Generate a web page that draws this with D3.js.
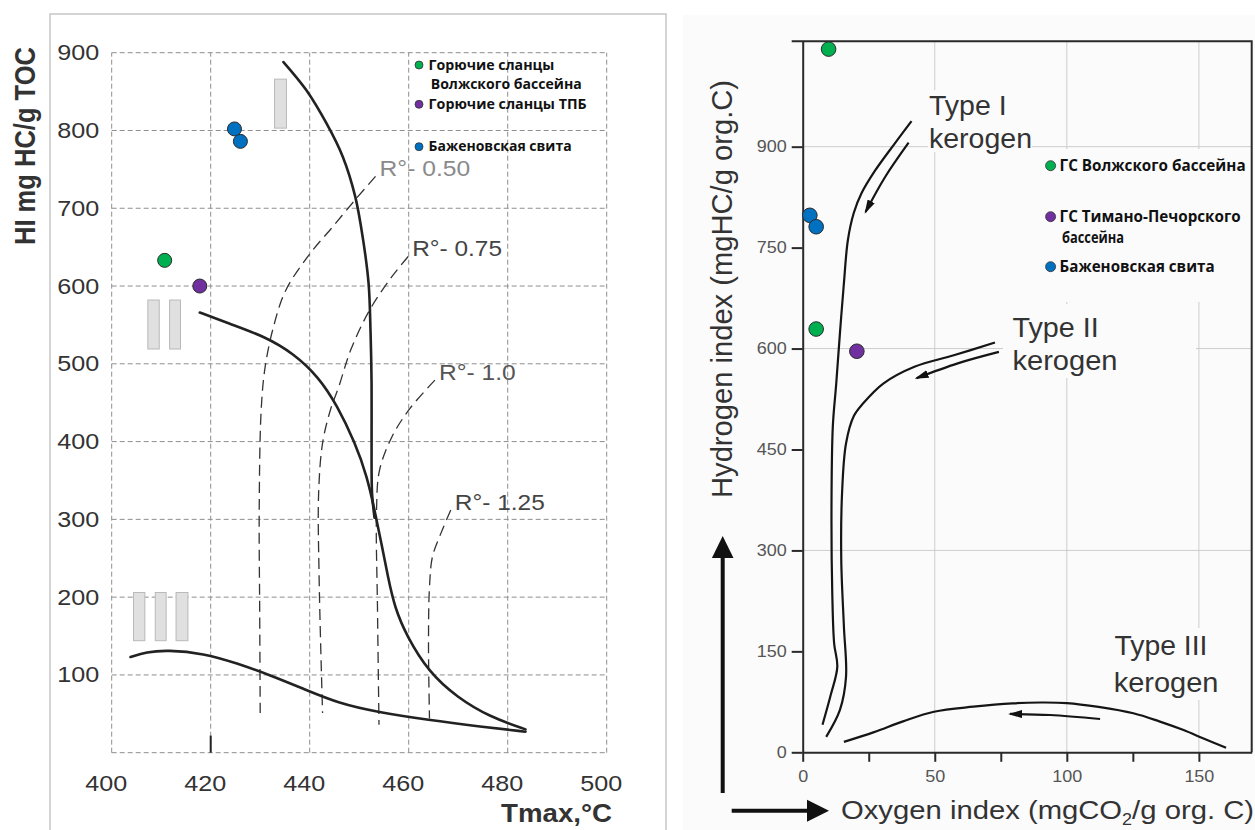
<!DOCTYPE html>
<html>
<head>
<meta charset="utf-8">
<script src="https://cdn.jsdelivr.net/npm/d3@7"></script>
<style>
  body { margin: 0; background: #fff; }
  svg { display: block; font-family: "Liberation Sans", Arial, sans-serif; }
</style>
</head>
<body>
<div id="chart"></div>
<script>
// ---- left chart: HI vs Tmax ----
let tmaxTicks = [400, 420, 440, 460, 480, 500];
let hiTicksLeft = [100, 200, 300, 400, 500, 600, 700, 800, 900];

// samples [tmax, HI]
let volgaLeft = [[410.7, 633]];
let tpbLeft = [[417.8, 600]];
let bazhLeft = [[424.8, 802], [426.0, 786]];

// kerogen evolution paths [tmax, HI]
let typeILeft = [[434.7, 888], [439.3, 852], [443.4, 809], [446.7, 766], [449.2, 715], [450.8, 659],
  [451.9, 603], [452.3, 539], [452.5, 475], [452.5, 398], [452.6, 333], [453.1, 302]];
let typeIILeft = [[417.8, 566], [423.6, 552], [431.0, 535], [436.8, 513], [441.8, 483], [445.5, 447],
  [449.2, 398], [451.6, 355], [453.1, 312], [454.5, 269], [455.8, 226], [457.2, 186], [459.6, 150],
  [464.0, 104], [469.8, 71], [476.4, 46], [483.6, 30]];
let typeIIILeft = [[403.8, 123], [407.0, 129.5], [411.2, 132], [418.6, 127.8], [425.3, 115], [431.9, 100],
  [439.3, 80.6], [445.9, 63.5], [453.3, 52.7], [464.0, 42], [474.7, 33.4], [483.6, 27]];

// vitrinite reflectance isolines [tmax, HI]
let ro050 = [[453.3, 741], [449.2, 711], [444.5, 675], [440.1, 642], [435.2, 595], [432.7, 548],
  [431.0, 496], [430.2, 441], [429.8, 312], [429.9, 180], [430.0, 51]];
let ro075 = [[459.9, 638], [456.6, 612], [452.1, 569], [448.3, 518], [445.9, 471], [444.2, 441],
  [442.6, 398], [441.8, 333], [441.9, 226], [442.6, 51]];
let ro100 = [[465.3, 479], [460.3, 443], [456.6, 406], [454.1, 363], [453.5, 312], [453.7, 183], [454.0, 36]];
let ro125 = [[468.5, 312], [466.5, 282], [464.8, 252], [464.2, 213], [464.0, 141], [464.2, 44]];
let roNames = ["R°- 0.50", "R°- 0.75", "R°- 1.0", "R°- 1.25"];

// grey type markers [tmax0, tmax1, HI0, HI1]
let typeBoxes = [[432.9, 435.3, 803, 866],
  [407.3, 409.6, 519, 582], [411.7, 413.9, 519, 582],
  [404.4, 406.7, 144, 206], [408.8, 411.0, 144, 206], [413.0, 415.4, 144, 206]];

let legendLeft = [["Горючие сланцы", "Волжского бассейна"], ["Горючие сланцы ТПБ"], ["Баженовская свита"]];

// ---- right chart: HI vs OI ----
let oiTicks = [0, 25, 50, 75, 100, 125, 150];
let oiLabels = [0, 50, 100, 150];
let hiTicksRight = [0, 150, 300, 450, 600, 750, 900];
let hiGridRight = [300, 600, 900];

// samples [OI, HI]
let volgaRight = [[9.8, 1045], [5.1, 629]];
let tpbRight = [[20.5, 596]];
let bazhRight = [[2.7, 798], [5.1, 781]];

let typeIRight = [[41.2, 938], [34.9, 905], [27.5, 865], [22.3, 831], [19.3, 801], [17.1, 761], [15.6, 697],
  [14.1, 623], [12.7, 548], [11.4, 484], [10.9, 360], [11.2, 236], [11.9, 162], [13.1, 127], [10.6, 85], [7.5, 41]];
let typeIIRight = [[72.8, 609], [57.2, 590], [42.3, 573], [30.5, 548], [23.0, 519], [19.4, 500],
  [16.4, 459], [14.9, 385], [14.6, 286], [15.6, 187], [16.4, 112], [14.1, 63], [8.9, 23]];
let typeIIIRight = [[15.6, 15.5], [27.0, 30], [38.0, 46], [49.7, 60.3], [64.6, 67.8], [79.5, 72.8], [90, 74],
  [100, 73.2], [112, 67.5], [125.2, 58], [135, 46], [144.2, 33], [152, 20], [160.3, 6.8]];
let arrowIRight = [[40.1, 906], [31.2, 855], [23.8, 803]];
let arrowIIRight = [[74.3, 595], [58.7, 578], [43.1, 556]];
let arrowIIIRight = [[112.6, 49.5], [93.7, 55.4], [78.5, 57]];

let legendRight = [["ГС Волжского бассейна"], ["ГС Тимано-Печорского", "бассейна"], ["Баженовская свита"]];

let groupColors = ["#00b050", "#7030a0", "#0070c0"];

let width = 1255;
let height = 830;

let svg = d3.select("#chart")
  .append("svg")
  .attr("width", width)
  .attr("height", height);

let defs = svg.append("defs");
defs.append("marker")
  .attr("id", "head")
  .attr("viewBox", "0 0 14 8")
  .attr("refX", 12)
  .attr("refY", 4)
  .attr("markerWidth", 14)
  .attr("markerHeight", 8)
  .attr("markerUnits", "userSpaceOnUse")
  .attr("orient", "auto")
  .append("path")
  .attr("d", "M0,0L14,4L0,8Z")
  .attr("fill", "#111");

// panel backgrounds
svg.append("rect")
  .attr("x", 683).attr("y", 15)
  .attr("width", width - 683).attr("height", height - 15)
  .attr("fill", "#fbfbfc");
svg.append("path")
  .attr("d", "M50,830V14H666V830")
  .attr("fill", "none")
  .attr("stroke", "#c6c6c6")
  .attr("stroke-width", 1.5);

function addText(parent, x, y, str, size, opts) {
  opts = opts || {};
  let t = parent.append("text")
    .attr("x", x)
    .attr("y", y)
    .attr("font-size", size)
    .attr("fill", opts.fill || "#333")
    .text(str);
  if (opts.len) t.attr("textLength", opts.len).attr("lengthAdjust", "spacingAndGlyphs");
  if (opts.weight) t.attr("font-weight", opts.weight);
  if (opts.anchor) t.attr("text-anchor", opts.anchor);
  if (opts.family) t.attr("font-family", opts.family);
  return t;
}

// =============== LEFT ===============
let xL = d3.scaleLinear().domain([400, 500]).range([111.7, 606.7]);
let yL = d3.scaleLinear().domain([0, 900]).range([752.7, 52.7]);
let gL = svg.append("g");

gL.selectAll(".vgridL")
  .data(tmaxTicks)
  .join("line")
  .attr("x1", d => xL(d)).attr("x2", d => xL(d))
  .attr("y1", yL(0)).attr("y2", yL(900))
  .attr("stroke", "#8e8e8e").attr("stroke-width", 1).attr("stroke-dasharray", "5,3");
gL.selectAll(".hgridL")
  .data([0].concat(hiTicksLeft))
  .join("line")
  .attr("x1", xL(400)).attr("x2", xL(500))
  .attr("y1", d => yL(d)).attr("y2", d => yL(d))
  .attr("stroke", "#8e8e8e").attr("stroke-width", 1).attr("stroke-dasharray", "5,3");

// short solid mark on the 420 line
gL.append("line")
  .attr("x1", xL(420)).attr("x2", xL(420))
  .attr("y1", yL(0)).attr("y2", yL(22))
  .attr("stroke", "#222").attr("stroke-width", 2);

// axes (labels only)
let yAxisL = d3.axisLeft(yL).tickValues(hiTicksLeft).tickSize(0).tickPadding(12.4);
let xAxisL = d3.axisBottom(xL).tickValues(tmaxTicks).tickSize(0);
let gyL = gL.append("g").attr("transform", "translate(" + xL(400) + ",0)").call(yAxisL);
let gxL = gL.append("g").attr("transform", "translate(0," + yL(0) + ")").call(xAxisL);
[gyL, gxL].forEach(function (g) {
  g.select(".domain").remove();
  g.selectAll("text")
    .attr("font-size", 22)
    .attr("fill", "#333")
    .attr("font-family", "'Liberation Sans', Arial, sans-serif")
    .attr("textLength", 42)
    .attr("lengthAdjust", "spacingAndGlyphs");
});
gxL.selectAll("text").attr("y", 38.5).attr("dy", 0).attr("x", -6);

// type boxes
gL.selectAll(".tbox")
  .data(typeBoxes)
  .join("rect")
  .attr("x", d => xL(d[0]))
  .attr("width", d => xL(d[1]) - xL(d[0]))
  .attr("y", d => yL(d[3]))
  .attr("height", d => yL(d[2]) - yL(d[3]))
  .attr("fill", "#e0e0e0")
  .attr("stroke", "#b9b9b9")
  .attr("stroke-width", 1);

// isolines
let lineL = d3.line().x(d => xL(d[0])).y(d => yL(d[1])).curve(d3.curveCatmullRom);
let smoothL = d3.line().x(d => xL(d[0])).y(d => yL(d[1])).curve(d3.curveBasis);
let roLines = [ro050, ro075, ro100, ro125];
gL.selectAll(".ro")
  .data(roLines)
  .join("path")
  .attr("d", lineL)
  .attr("fill", "none")
  .attr("stroke", "#333")
  .attr("stroke-width", 1.3)
  .attr("stroke-dasharray", "11,6");
let roColors = ["#8a8a8a", "#444", "#555", "#444"];
let roLens = [90.6, 89.8, 76.7, 90];
roLines.forEach(function (ro, i) {
  addText(gL, xL(ro[0][0]) + 4, yL(ro[0][1]), roNames[i], 22, { fill: roColors[i], len: roLens[i] });
});

// kerogen paths
gL.selectAll(".kerL")
  .data([typeIIILeft, typeIILeft])
  .join("path")
  .attr("d", smoothL)
  .attr("fill", "none")
  .attr("stroke", "#222")
  .attr("stroke-width", 2.6)
  .attr("stroke-linecap", "round");
gL.append("path")
  .attr("d", lineL(typeILeft))
  .attr("fill", "none")
  .attr("stroke", "#222")
  .attr("stroke-width", 2.6)
  .attr("stroke-linecap", "round");

// samples
[volgaLeft, tpbLeft, bazhLeft].forEach(function (pts, i) {
  gL.selectAll(".ptL" + i)
    .data(pts)
    .join("circle")
    .attr("cx", d => xL(d[0]))
    .attr("cy", d => yL(d[1]))
    .attr("r", 7)
    .attr("fill", groupColors[i])
    .attr("stroke", "#2a2a2a")
    .attr("stroke-width", 1);
});

// legend
let legL = gL.append("g");
let legLeftY = [65, 104.3, 146.7];
let legLeftLens = [[125.7, 151], [158], [143]];
legendLeft.forEach(function (lines, i) {
  legL.append("circle")
    .attr("cx", 419).attr("cy", legLeftY[i]).attr("r", 4)
    .attr("fill", groupColors[i]).attr("stroke", "#333").attr("stroke-width", 0.8);
  lines.forEach(function (s, j) {
    addText(legL, j === 0 ? 428.6 : 430.7, legLeftY[i] + 4.5 + j * 19.5, s, 14.5,
      { fill: "#111", weight: "bold", len: legLeftLens[i][j], family: "'Open Sans', sans-serif" });
  });
});

// titles
svg.append("text")
  .attr("transform", "translate(35,146) scale(1.2,1) rotate(-90)")
  .attr("text-anchor", "middle")
  .attr("font-size", 24)
  .attr("font-weight", "bold")
  .attr("fill", "#333")
  .attr("textLength", 198)
  .attr("lengthAdjust", "spacingAndGlyphs")
  .text("HI mg HC/g TOC");
addText(svg, 501, 822, "Tmax,°C", 25, { weight: "bold", len: 111 });

// =============== RIGHT ===============
let xR = d3.scaleLinear().domain([0, 170]).range([802.7, 1251.7]);
let yR = d3.scaleLinear().domain([0, 1056.6]).range([752.3, 41.3]);
let gR = svg.append("g");

gR.selectAll(".vgridR")
  .data([50, 100, 150])
  .join("line")
  .attr("x1", d => xR(d)).attr("x2", d => xR(d))
  .attr("y1", yR(0)).attr("y2", yR(1056.6))
  .attr("stroke", "#cdcdcd").attr("stroke-width", 1);
gR.selectAll(".hgridR")
  .data(hiGridRight)
  .join("line")
  .attr("x1", xR(0)).attr("x2", xR(170))
  .attr("y1", d => yR(d)).attr("y2", d => yR(d))
  .attr("stroke", "#cdcdcd").attr("stroke-width", 1);

// patches behind the text blocks
let patches = [[928, 90, 104, 62], [1032, 149, 218, 153], [1003, 304, 193, 74], [1110, 628, 112, 72]];
gR.selectAll(".patch")
  .data(patches)
  .join("rect")
  .attr("x", d => d[0]).attr("y", d => d[1])
  .attr("width", d => d[2]).attr("height", d => d[3])
  .attr("fill", "#fbfbfc");

// frame
gR.append("path")
  .attr("d", "M" + (xR(0) - 11) + "," + yR(1056.6) + "H" + xR(170) + "V" + yR(0))
  .attr("fill", "none").attr("stroke", "#2a2a2a").attr("stroke-width", 2);

let yAxisR = d3.axisLeft(yR).tickValues(hiTicksRight).tickSize(11).tickSizeOuter(0).tickPadding(5);
let xAxisR = d3.axisBottom(xR).tickValues(oiTicks).tickSize(9.5).tickSizeOuter(0)
  .tickFormat(d => oiLabels.indexOf(d) >= 0 ? d : "");
let gyR = gR.append("g").attr("transform", "translate(" + xR(0) + ",0)").call(yAxisR);
let gxR = gR.append("g").attr("transform", "translate(0," + yR(0) + ")").call(xAxisR);
[gyR, gxR].forEach(function (g) {
  g.select(".domain").attr("stroke", "#2a2a2a").attr("stroke-width", 2);
  g.selectAll(".tick line").attr("stroke", "#2a2a2a").attr("stroke-width", 2);
  g.selectAll("text")
    .attr("font-size", 16)
    .attr("fill", "#555")
    .attr("font-family", "'Liberation Sans', Arial, sans-serif")
    .attr("textLength", d => String(d).length * 10)
    .attr("lengthAdjust", "spacingAndGlyphs");
});
gxR.selectAll("text").attr("y", 29.5).attr("dy", 0);
gxR.selectAll(".tick").filter(d => oiLabels.indexOf(d) < 0).select("text").remove();

let lineR = d3.line().x(d => xR(d[0])).y(d => yR(d[1])).curve(d3.curveCatmullRom);
gR.selectAll(".kerR")
  .data([typeIRight, typeIIRight, typeIIIRight])
  .join("path")
  .attr("d", lineR)
  .attr("fill", "none")
  .attr("stroke", "#151515")
  .attr("stroke-width", 2.2);
gR.selectAll(".arrR")
  .data([arrowIRight, arrowIIRight, arrowIIIRight])
  .join("path")
  .attr("d", lineR)
  .attr("fill", "none")
  .attr("stroke", "#151515")
  .attr("stroke-width", 2.2)
  .attr("marker-end", "url(#head)");

// type labels
addText(gR, 929, 115, "Type I", 28, { len: 77.6 });
addText(gR, 929, 148.3, "kerogen", 28, { len: 103 });
addText(gR, 1012.5, 336.5, "Type II", 28, { len: 86.3 });
addText(gR, 1012.5, 369.5, "kerogen", 28, { len: 105 });
addText(gR, 1114.5, 655, "Type III", 28, { len: 93 });
addText(gR, 1113.7, 691.7, "kerogen", 28, { len: 104.7 });

[volgaRight, tpbRight, bazhRight].forEach(function (pts, i) {
  gR.selectAll(".ptR" + i)
    .data(pts)
    .join("circle")
    .attr("cx", d => xR(d[0]))
    .attr("cy", d => yR(d[1]))
    .attr("r", 7.3)
    .attr("fill", groupColors[i])
    .attr("stroke", "#2a2a2a")
    .attr("stroke-width", 1);
});

let legR = gR.append("g");
let legRightY = [165.7, 216.7, 266.7];
let legRightLens = [[186], [181, 62], [155]];
legendRight.forEach(function (lines, i) {
  legR.append("circle")
    .attr("cx", 1050.6).attr("cy", legRightY[i]).attr("r", 5)
    .attr("fill", groupColors[i]).attr("stroke", "#333").attr("stroke-width", 0.8);
  lines.forEach(function (s, j) {
    addText(legR, j === 0 ? 1059.6 : 1062, legRightY[i] + 5 + j * 21.7, s, 15.5,
      { fill: "#111", weight: "bold", len: legRightLens[i][j], family: "'Open Sans', sans-serif" });
  });
});

// axis titles and big arrows
svg.append("text")
  .attr("transform", "translate(731.5,289) rotate(-90)")
  .attr("text-anchor", "middle")
  .attr("font-size", 30)
  .attr("fill", "#333")
  .attr("textLength", 418)
  .attr("lengthAdjust", "spacingAndGlyphs")
  .text("Hydrogen index (mgHC/g org.C)");

let xt = svg.append("text")
  .attr("x", 841).attr("y", 819)
  .attr("font-size", 26)
  .attr("fill", "#333")
  .attr("textLength", 413)
  .attr("lengthAdjust", "spacingAndGlyphs");
xt.append("tspan").text("Oxygen index (mgCO");
xt.append("tspan").attr("font-size", 16).attr("dy", 6).text("2");
xt.append("tspan").attr("dy", -6).text("/g org. C)");

svg.append("line")
  .attr("x1", 722.7).attr("x2", 722.7).attr("y1", 793).attr("y2", 555)
  .attr("stroke", "#111").attr("stroke-width", 4);
svg.append("path")
  .attr("d", "M722.7,536L733.5,558L711.9,558Z")
  .attr("fill", "#111");
svg.append("line")
  .attr("x1", 731.7).attr("x2", 810).attr("y1", 810.7).attr("y2", 810.7)
  .attr("stroke", "#111").attr("stroke-width", 4);
svg.append("path")
  .attr("d", "M829,810.7L807,799.7L807,821.7Z")
  .attr("fill", "#111");
</script>
</body>
</html>
